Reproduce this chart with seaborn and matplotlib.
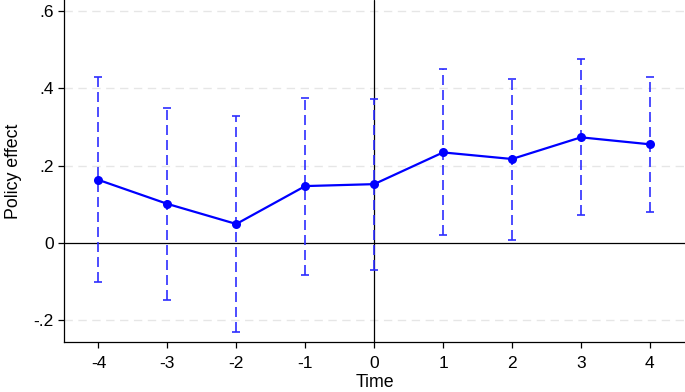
import numpy as np
import pandas as pd
import matplotlib
matplotlib.use("Agg")
import matplotlib.pyplot as plt
import seaborn as sns

time = [-4, -3, -2, -1, 0, 1, 2, 3, 4]
effect = [0.163, 0.101, 0.049, 0.147, 0.152, 0.234, 0.217, 0.273, 0.255]
ci_low = [-0.100, -0.147, -0.230, -0.083, -0.070, 0.020, 0.008, 0.072, 0.080]
ci_high = [0.428, 0.349, 0.327, 0.374, 0.372, 0.449, 0.425, 0.475, 0.429]
yticks = [-0.2, 0, 0.2, 0.4, 0.6]
ytick_labels = ["-.2", "0", ".2", ".4", ".6"]

df = pd.DataFrame({"Time": time, "effect": effect, "lo": ci_low, "hi": ci_high})

sns.set_theme(style="white")
plt.rcParams["font.family"] = ["Liberation Sans", "DejaVu Sans"]

fig = plt.figure(figsize=(6.85, 3.92), dpi=100)
ax = fig.add_axes([0.0934, 0.1276, 0.9066, 0.8724])

# grid lines
for yt in yticks:
    if yt != 0:
        ax.axhline(yt, color="#e6e6e6", lw=1.0, ls=(0, (6, 4)), zorder=0)

ax.axhline(0, color="black", lw=0.9, zorder=1)
ax.axvline(0, color="black", lw=0.9, zorder=1)

yerr = np.vstack([df["effect"] - df["lo"], df["hi"] - df["effect"]])
eb = ax.errorbar(df["Time"], df["effect"], yerr=yerr, fmt="none", ecolor="#2d2dff",
                 elinewidth=1.2, capsize=3, capthick=1.2, zorder=2)
eb[2][0].set_linestyle((0, (6, 3)))

sns.lineplot(data=df, x="Time", y="effect", ax=ax, color="#0000ff", lw=1.6,
             marker="o", markersize=6.5, markeredgewidth=0, zorder=3)

ax.set_xlim(-4.5, 4.51)
ax.set_ylim(-0.256, 0.628)
ax.set_xticks(time)
ax.set_xticklabels([str(t) for t in time])
ax.set_yticks(yticks)
ax.set_yticklabels(ytick_labels)

for s in ["top", "right"]:
    ax.spines[s].set_visible(False)
for s in ["left", "bottom"]:
    ax.spines[s].set_color("black")
    ax.spines[s].set_linewidth(0.9)

ax.tick_params(axis="both", direction="out", length=4.5, width=0.9, color="black",
               labelsize=12.5, labelcolor="black", left=True, bottom=True)
ax.tick_params(axis="x", pad=5.5)
ax.tick_params(axis="y", pad=3)

ax.set_xlabel("Time", fontsize=12.8, color="black", labelpad=2.5)
ax.set_ylabel("Policy effect", fontsize=12.8, color="black", labelpad=8)

fig.savefig("out.png", dpi=100)
